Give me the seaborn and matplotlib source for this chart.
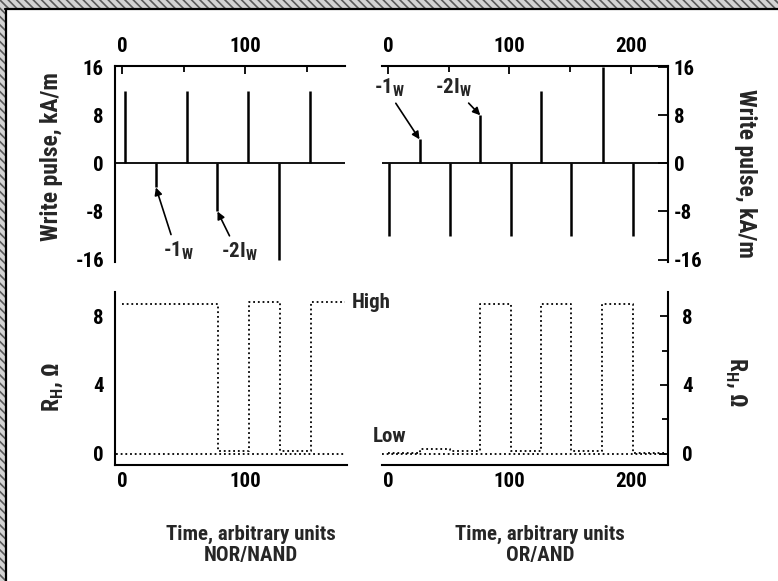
import matplotlib
matplotlib.use('Agg')
import matplotlib.pyplot as plt
import seaborn as sns
from matplotlib import font_manager
from matplotlib.patches import Rectangle
from matplotlib.lines import Line2D

# write pulses, time in arbitrary units, field in kA/m
nor_pulse_t = [2.5, 27.5, 52.5, 77.5, 102.5, 127.5, 152.5]
nor_pulse_h = [12, -4, 12, -8, 12, -16, 12]
or_pulse_t = [1, 26, 51, 76, 101, 126, 151, 177, 201.5]
or_pulse_h = [-12, 4, -12, 8, -12, 12, -12, 16, -12]

# Hall resistance, step traces (ohm)
nor_rh_t = [0, 77.5, 102.5, 127.5, 152.5, 180]
nor_rh_v = [8.7, 0.15, 8.8, 0.15, 8.8, 8.8]
nor_low_t = [-5, 181]
nor_low_v = [0.0, 0.0]
or_rh_t = [0, 26, 51, 76, 101, 126, 151, 176, 201.5, 229]
or_rh_v = [0.05, 0.3, 0.15, 8.7, 0.15, 8.7, 0.15, 8.7, 0.05, 0.05]
or_low_t = [-5, 230]
or_low_v = [0.0, 0.0]


def pick_font():
    # look for a bold condensed sans, otherwise plain Liberation Sans
    cands = {}
    for f in font_manager.fontManager.ttflist:
        nm = f.name
        if any(k in nm for k in ('Mono', 'Serif', 'CJK', 'Display')):
            continue
        w = f.weight
        if isinstance(w, str):
            w = font_manager.weight_dict.get(w, 400)
        st = f.stretch
        narrow = ('Narrow' in nm or 'Condensed' in nm or
                  st in ('condensed', 'semi-condensed', 'extra-condensed') or
                  (isinstance(st, int) and st < 500))
        if narrow and w >= 600:
            cands.setdefault(nm, st)
    for pref in ['Liberation Sans Narrow', 'Roboto Condensed', 'Open Sans Condensed',
                 'Noto Sans Condensed', 'DejaVu Sans Condensed', 'DejaVu Sans',
                 'Noto Sans', 'Open Sans', 'Roboto']:
        if pref in cands:
            return pref, cands[pref]
    if cands:
        nm = sorted(cands)[0]
        return nm, cands[nm]
    names = {f.name for f in font_manager.fontManager.ttflist}
    return ('Liberation Sans' if 'Liberation Sans' in names else 'DejaVu Sans'), 'normal'


sns.set_style('white')
font, stretch = pick_font()
plt.rcParams['font.family'] = [font, 'DejaVu Sans']
plt.rcParams['font.stretch'] = stretch
plt.rcParams['font.weight'] = 'bold'
plt.rcParams['axes.unicode_minus'] = False
plt.rcParams['hatch.linewidth'] = 1.2

fs = 15
fs_lab = 17
W, H = 778, 581
fig = plt.figure(figsize=(W / 100, H / 100), dpi=100)
fig.set_facecolor('w')


def px_axes(x0, y0, x1, y1):
    return fig.add_axes([x0 / W, 1 - y1 / H, (x1 - x0) / W, (y1 - y0) / H])


ax_tl = px_axes(115, 66, 345, 262)
ax_tr = px_axes(382, 66, 668, 262)
ax_bl = px_axes(115, 292, 347, 465)
ax_br = px_axes(382, 292, 668, 465)

for ax in [ax_tl, ax_tr, ax_bl, ax_br]:
    ax.set_facecolor('none')
    for s in ax.spines.values():
        s.set_linewidth(1.5)
        s.set_color('k')
        s.set_visible(False)
    ax.tick_params(which='both', direction='in', width=1.3, colors='k', labelsize=fs)

# ---- top: write pulses
for ax, t, h, xlim, xmaj in [(ax_tl, nor_pulse_t, nor_pulse_h, (-5.7, 181), [0, 100]),
                            (ax_tr, or_pulse_t, or_pulse_h, (-4.9, 230.5), [0, 100, 200])]:
    ax.vlines(t, 0, h, color='k', lw=1.8)
    ax.axhline(0, color='k', lw=1.3)
    ax.set_xlim(*xlim)
    ax.set_ylim(-16.4, 16.2)
    ax.spines['top'].set_visible(True)
    ax.xaxis.tick_top()
    ax.set_xticks(xmaj)
    ax.set_xticks([50, 150], minor=True)
    ax.tick_params(axis='x', which='major', length=6, pad=7)
    ax.tick_params(axis='x', which='minor', length=4)
    ax.set_yticks([16, 8, 0, -8, -16])

ax_tl.spines['left'].set_visible(True)
ax_tl.tick_params(axis='y', length=6, pad=8)
ax_tl.set_ylabel('Write pulse, kA/m', fontsize=fs_lab, fontweight='bold', va='center', ha='center')
ax_tl.yaxis.set_label_coords(-0.274, 0.54)

ax_tr.spines['right'].set_visible(True)
ax_tr.yaxis.tick_right()
ax_tr.tick_params(axis='y', length=7, pad=4)
ax_tr.yaxis.set_label_position('right')
ax_tr.set_ylabel('Write pulse, kA/m', fontsize=fs_lab, fontweight='bold', rotation=-90,
                 va='center', ha='center')
ax_tr.yaxis.set_label_coords(1.27, 0.453)

arrow = dict(arrowstyle='-|>', color='k', lw=1.2, mutation_scale=11, shrinkA=1, shrinkB=0)
lbl1 = '-1$_\\mathregular{W}$'
lbl2 = '-2I$_\\mathregular{W}$'
ax_tl.annotate(lbl1, xy=(nor_pulse_t[1], nor_pulse_h[1]), xytext=(46, -12.6), fontsize=fs,
               ha='center', va='top', arrowprops=dict(arrow, relpos=(0.3, 1.0)))
ax_tl.annotate(lbl2, xy=(nor_pulse_t[3], nor_pulse_h[3]), xytext=(95, -12.8), fontsize=fs,
               ha='center', va='top', arrowprops=dict(arrow, relpos=(0.3, 1.0)))
ax_tr.annotate(lbl1, xy=(or_pulse_t[1], or_pulse_h[1]), xytext=(1.5, 14.5), fontsize=fs,
               ha='center', va='top', annotation_clip=False,
               arrowprops=dict(arrow, relpos=(0.6, 0.0)))
ax_tr.annotate(lbl2, xy=(or_pulse_t[3], or_pulse_h[3]), xytext=(54, 14.5), fontsize=fs,
               ha='center', va='top', annotation_clip=False,
               arrowprops=dict(arrow, relpos=(0.8, 0.0)))

# ---- bottom: Hall resistance
dot = (0, (1.0, 1.6))
for ax, t, v, lt, lv, xlim, xmaj, xmin in [
        (ax_bl, nor_rh_t, nor_rh_v, nor_low_t, nor_low_v, (-5.7, 182), [0, 100], [50, 150]),
        (ax_br, or_rh_t, or_rh_v, or_low_t, or_low_v, (-4.9, 230.5), [0, 100, 200], [50, 150])]:
    sns.lineplot(x=lt, y=lv, ax=ax, color='k', lw=1.3, linestyle=dot, estimator=None, sort=False)
    sns.lineplot(x=t, y=v, ax=ax, color='k', lw=1.3, linestyle=dot, drawstyle='steps-post',
                 estimator=None, sort=False)
    ax.set_xlim(*xlim)
    ax.set_ylim(-0.65, 9.4)
    ax.spines['bottom'].set_visible(True)
    ax.set_xticks(xmaj)
    ax.set_xticks(xmin, minor=True)
    ax.set_yticks([0, 4, 8])
    ax.set_yticks([2, 6], minor=True)
    ax.tick_params(axis='x', which='major', length=7, pad=5)
    ax.tick_params(axis='x', which='minor', length=4)

ax_bl.spines['left'].set_visible(True)
ax_bl.tick_params(axis='y', which='major', length=6.5, pad=8)
ax_bl.tick_params(axis='y', which='minor', length=3)
ax_bl.set_ylabel('R$_\\mathregular{H}$, Ω', fontsize=fs_lab, fontweight='bold', va='center', ha='center')
ax_bl.yaxis.set_label_coords(-0.27, 0.45)
ax_bl.set_xlabel('Time, arbitrary units\nNOR/NAND', fontsize=fs, fontweight='bold', linespacing=1.15)
ax_bl.xaxis.set_label_coords(0.586, -0.345)
ax_bl.text(185.5, 8.8, 'High', fontsize=fs, fontweight='bold', ha='left', va='center')
ax_bl.text(203, 1.0, 'Low', fontsize=fs, fontweight='bold', ha='left', va='center')

ax_br.spines['right'].set_visible(True)
ax_br.yaxis.tick_right()
ax_br.tick_params(axis='y', which='major', length=6, pad=10)
ax_br.tick_params(axis='y', which='minor', length=4)
ax_br.yaxis.set_label_position('right')
ax_br.set_ylabel('R$_\\mathregular{H}$, Ω', fontsize=fs_lab, fontweight='bold', rotation=-90,
                 va='center', ha='center')
ax_br.yaxis.set_label_coords(1.24, 0.48)
ax_br.set_xlabel('Time, arbitrary units\nOR/AND', fontsize=fs, fontweight='bold', linespacing=1.15)
ax_br.xaxis.set_label_coords(0.552, -0.345)

# scanned page edge, top and left
fig.patches.append(Rectangle((0, 1 - 8 / H), 1, 8 / H, transform=fig.transFigure,
                             facecolor='#d4d4d4', edgecolor='#5a5a5a', hatch='\\\\\\\\', lw=0, zorder=0))
fig.patches.append(Rectangle((0, 0), 5 / W, 1, transform=fig.transFigure,
                             facecolor='#d4d4d4', edgecolor='#5a5a5a', hatch='\\\\\\\\', lw=0, zorder=0))
fig.add_artist(Line2D([5 / W, 1], [1 - 9 / H, 1 - 9 / H], transform=fig.transFigure, color='k', lw=1.6))
fig.add_artist(Line2D([6 / W, 6 / W], [0, 1 - 9 / H], transform=fig.transFigure, color='k', lw=1.6))

fig.savefig('out.png', dpi=100)
